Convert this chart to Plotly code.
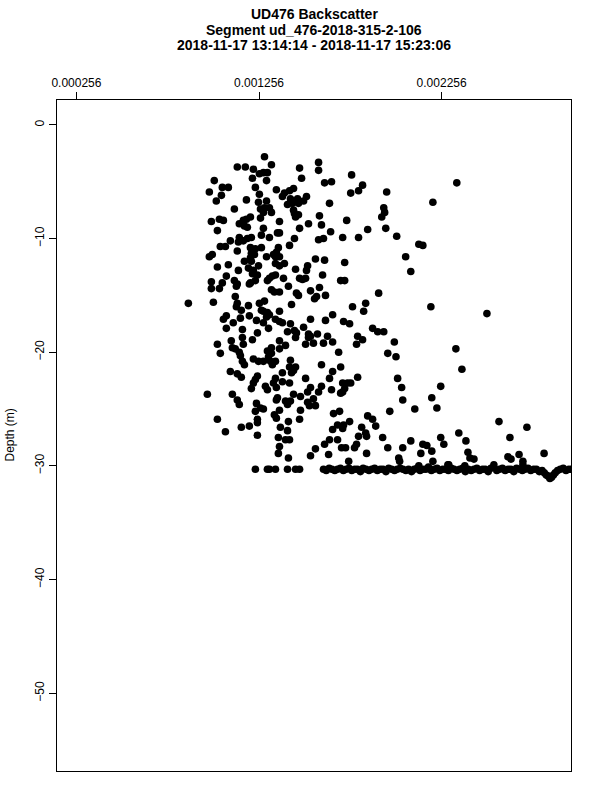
import plotly.graph_objects as go

# ---------------- data ----------------
title_lines = ["UD476 Backscatter",
               "Segment ud_476-2018-315-2-106",
               "2018-11-17 13:14:14 - 2018-11-17 15:23:06"]
x_tick_vals = [0.000256, 0.001256, 0.002256]
x_tick_text = ["0.000256", "0.001256", "0.002256"]
y_tick_vals = [0, -10, -20, -30, -40, -50]
y_title = "Depth (m)"

# backscatter values in units of 1e-6, water-column targets
cloud_bs_u = [
    1286,1324,1137,1181,1225,1258,1280,1302,1220,1297,
    1011,1055,1088,1236,984,1050,1022,1258,1351,1395,
    1423,1445,1478,1489,1582,1582,1615,1653,1187,1253,
    1297,1384,1428,1467,1516,1500,1439,1472,1412,1642,
    1758,1801,1823,1763,1955,1121,1264,1286,1313,1324,
    1280,1445,1450,1472,1456,1939,1944,1928,1587,995,
    1039,1061,1170,1187,1209,1148,1176,1192,1264,1368,
    1527,1478,1598,1648,1736,1851,1950,1028,1280,1269,
    1357,1368,1148,1214,1143,1170,1192,1313,1450,1099,
    1582,1609,1714,1801,1044,1072,1423,1137,1209,1225,
    1236,1214,1231,1269,1362,1351,1346,1335,1368,1297,
    984,1000,1209,1214,1176,1565,1615,1725,1088,1028,
    1143,1198,1225,1253,1247,1220,1346,1368,1395,1456,
    1522,1516,1604,1077,1121,1132,1137,1313,1329,1346,
    1302,1390,1478,1494,1511,1703,1725,995,995,1039,
    1055,1209,1203,1236,1417,1324,1340,1368,1461,1472,
    1538,1587,1620,1911,1126,1137,1132,1006,869,1258,
    1286,1434,1560,1571,1768,1840,1829,1198,1159,1269,
    1280,1302,1313,1368,1659,1077,1061,1115,1154,1203,
    1242,1297,1280,1346,1368,1384,1428,1538,1620,1719,
    1752,1878,1906,1939,1077,1165,1247,1308,1412,1450,
    1461,1500,1527,1576,1631,1796,1456,1527,1538,1659,
    1823,1790,1028,1104,1165,1170,1110,1126,1148,1044,
    1220,1302,1324,1368,1401,1368,1511,1554,1609,
    1692,1961,1154,1165,1176,1225,1253,1280,1308,1324,
    1319,1346,1329,1428,1423,1456,1434,1445,1598,1703,
    1099,1137,1159,1247,1236,1225,1214,1291,1302,1346,
    1335,1351,1384,1384,1423,1511,1659,1642,1714,1741,
    1758,1796,1598,1538,1522,1582,1653,1714,1725,1703,
    973,1110,1137,1148,1357,1351,1401,1412,1428,1445,
    1483,1522,1554,1532,1565,1242,1264,1236,1280,1368,
    1340,1351,1483,1478,1028,1247,1247,1417,1664,1697,
    1752,1686,1719,1714,1851,1878,1895,1972,1072,1159,
    1203,1247,1373,1412,1659,1818,1840,1845,1801,1933,
    1362,1401,1423,1642,1686,1368,1362,1417,1538,1565,
    1615,1637,1708,1730,1779,1790,1747,1845,1961,
    2339,2208,2010,2131,2153,2059,2087,2197,2504,2334,
    2367,2251,2202,2230,2109,2015,2037,2043,1997,2006,
    2087,2043,2021,2026,2153,2175,2202,2142,2208,2251,
    2268,2350,2389,2400,2411,2433,2570,2630,2723,2619,
    2636,2680,2701,2817,2295,
]
cloud_depth = [
    -2.8,-3.5,-3.7,-3.7,-3.9,-4.3,-4.2,-4.2,-4.7,-4.9,
    -4.9,-5.5,-5.5,-5.5,-5.9,-6.2,-6.7,-6.1,-5.7,-6.0,
    -5.8,-5.6,-3.8,-4.7,-3.3,-4.0,-5.1,-5.0,-6.6,-6.8,
    -6.7,-6.3,-6.5,-6.5,-6.3,-6.7,-6.9,-6.9,-7.0,-6.9,
    -6.0,-5.8,-5.3,-4.4,-5.9,-7.4,-7.4,-7.3,-7.3,-7.7,
    -7.7,-7.5,-7.8,-7.9,-8.1,-7.3,-7.7,-8.1,-8.0,-8.5,
    -8.3,-8.4,-8.4,-8.3,-8.1,-8.7,-8.9,-9.0,-8.2,-8.5,
    -8.7,-9.1,-8.8,-9.4,-8.4,-9.2,-9.1,-9.3,-9.1,-9.7,
    -9.5,-9.5,-9.9,-9.9,-10.3,-10.2,-10.0,-9.9,-10.0,-10.2,
    -10.1,-10.0,-9.9,-9.9,-10.7,-10.7,-10.6,-11.1,-10.8,-11.1,
    -10.9,-11.3,-11.4,-10.8,-10.8,-11.2,-11.6,-11.4,-11.6,-11.6,
    -11.6,-11.4,-11.7,-12.0,-12.0,-11.8,-11.9,-12.1,-12.3,-12.5,
    -12.8,-12.6,-12.8,-12.4,-13.2,-13.1,-12.2,-12.4,-12.2,-12.7,
    -12.4,-12.8,-13.2,-13.3,-13.7,-14.2,-14.0,-13.5,-13.3,-13.2,
    -13.7,-13.5,-13.5,-13.6,-13.5,-13.7,-13.7,-13.8,-14.4,-14.4,
    -13.9,-13.9,-14.0,-13.7,-14.2,-14.5,-14.7,-14.7,-14.8,-15.0,
    -14.6,-14.3,-15.0,-14.8,-15.1,-15.7,-16.0,-15.6,-15.7,-15.7,
    -15.5,-15.8,-15.3,-15.1,-16.0,-15.7,-16.4,-15.9,-16.3,-16.3,
    -16.4,-16.5,-16.7,-16.4,-16.7,-16.8,-17.1,-17.4,-17.0,-16.8,
    -17.2,-16.9,-17.4,-17.1,-17.3,-17.4,-17.5,-17.1,-17.2,-17.3,
    -17.5,-17.9,-18.2,-18.2,-17.9,-18.0,-18.3,-17.9,-18.2,-18.1,
    -18.3,-17.8,-18.4,-18.4,-18.6,-18.6,-18.7,-18.7,-18.6,-19.1,
    -18.9,-19.3,-19.3,-19.0,-18.7,-19.3,-19.6,-19.7,-20.0,-20.1,
    -18.9,-19.9,-19.6,-19.0,-19.4,-19.7,-19.3,-19.2,-19.2,
    -20.0,-20.1,-20.3,-20.8,-21.1,-20.6,-20.8,-20.8,-20.4,-20.1,
    -20.8,-20.8,-21.1,-20.7,-21.3,-21.3,-21.8,-21.6,-21.1,-21.3,
    -21.7,-21.9,-22.2,-22.1,-22.4,-22.7,-23.2,-23.0,-23.3,-22.3,
    -22.7,-23.1,-21.8,-22.6,-22.7,-22.3,-21.7,-22.3,-22.7,-22.7,
    -22.7,-22.2,-23.0,-23.1,-23.5,-23.5,-23.3,-23.5,-23.2,-23.6,
    -23.7,-23.7,-24.2,-24.6,-24.0,-24.2,-24.3,-24.6,-24.3,-23.7,
    -23.9,-24.4,-24.1,-24.7,-24.7,-24.5,-24.9,-25.2,-25.0,-25.1,
    -25.5,-25.8,-25.1,-25.9,-25.9,-25.9,-26.2,-26.1,-25.4,-25.2,
    -26.1,-26.4,-26.4,-26.7,-25.6,-25.9,-26.5,-25.2,-27.0,-26.6,
    -26.5,-27.3,-26.6,-26.9,-26.8,-26.6,-27.1,-27.4,-27.4,-27.5,
    -27.5,-27.7,-27.7,-27.7,-27.7,-28.3,-28.9,-29.3,-29.1,-28.5,
    -28.1,-29.0,-28.4,-28.4,-28.4,-28.1,-29.6,-28.9,-28.4,
    -5.1,-6.8,-9.8,-10.5,-10.6,-11.6,-12.9,-16.0,-16.6,-19.7,
    -21.5,-23.0,-24.0,-24.9,-25.0,-22.3,-23.1,-24.2,-19.1,-20.4,
    -27.8,-28.4,-29.3,-29.6,-28.1,-28.2,-28.7,-28.9,-29.6,-27.5,
    -28.1,-27.1,-27.8,-28.8,-29.3,-29.4,-26.1,-27.5,-26.6,-29.2,
    -29.4,-29.0,-29.6,-28.9,-29.9,
]

# seabed return (units of 1e-6)
bottom_bs_u = [
    1236,1302,1313,1346,1412,1456,1478,
    1609,1624,1640,1655,1671,1686,1702,1718,1733,1749,
    1764,1780,1795,1811,1826,1842,1858,1873,1889,1904,
    1920,1935,1951,1966,1982,1998,2013,2029,2044,2060,
    2075,2091,2106,2122,2131,2138,2153,2169,2184,2200,
    2215,2231,2246,2262,2278,2290,2293,2309,2324,2340,
    2355,2371,2383,2386,2402,2418,2433,2449,2464,2480,
    2495,2511,2526,2542,2558,2573,2589,2604,2620,2635,
    2651,2666,2682,2698,2701,2713,2729,2744,2760,2775,
    2791,2806,2818,2829,2840,2849,2858,2868,2878,2891,
    2906,2922,2937,2953,2968,
]
bottom_depth = [
    -30.3,-30.3,-30.3,-30.3,-30.3,-30.3,-30.3,
    -30.3,-30.4,-30.2,-30.3,-30.4,-30.3,-30.2,-30.4,-30.3,-30.2,
    -30.4,-30.3,-30.3,-30.5,-30.2,-30.3,-30.4,-30.3,-30.2,-30.4,
    -30.3,-30.3,-30.5,-30.2,-30.3,-30.4,-30.3,-30.2,-30.3,-30.4,
    -30.3,-30.5,-30.3,-30.2,-30.0,-30.4,-30.3,-30.3,-30.1,-30.4,
    -30.3,-30.2,-30.4,-30.3,-30.3,-29.9,-30.4,-30.2,-30.3,-30.4,
    -30.3,-30.2,-30.0,-30.5,-30.3,-30.4,-30.3,-30.2,-30.4,-30.3,
    -30.3,-30.5,-30.2,-29.9,-30.4,-30.3,-30.2,-30.4,-30.3,-30.3,
    -30.5,-30.2,-30.3,-30.4,-29.9,-30.3,-30.2,-30.4,-30.3,-30.3,
    -30.5,-30.4,-30.6,-30.8,-30.9,-31.1,-31.0,-30.8,-30.6,-30.4,
    -30.3,-30.2,-30.4,-30.3,-30.3,
]

assert len(cloud_bs_u) == len(cloud_depth), (len(cloud_bs_u), len(cloud_depth))
assert len(bottom_bs_u) == len(bottom_depth), (len(bottom_bs_u), len(bottom_depth))

x_all = [v * 1e-6 for v in cloud_bs_u + bottom_bs_u]
y_all = cloud_depth + bottom_depth

FONT = "Liberation Sans, Arial, Helvetica, sans-serif"

fig = go.Figure()
fig.add_trace(go.Scatter(
    x=x_all, y=y_all, mode="markers",
    marker=dict(color="black", size=7.6, line=dict(width=0)),
    showlegend=False, hoverinfo="skip",
))

fig.update_layout(
    width=600, height=800,
    margin=dict(l=57, r=29, t=100, b=29),
    paper_bgcolor="white", plot_bgcolor="white",
    font=dict(family=FONT, size=12, color="black"),
    showlegend=False,
)

fig.update_xaxes(
    side="top", range=[0.0001497, 0.0029644],
    tickmode="array", tickvals=x_tick_vals, ticktext=x_tick_text,
    ticks="outside", ticklen=7, tickwidth=1, tickcolor="black",
    showline=True, linecolor="black", linewidth=1, mirror=True,
    showgrid=False, zeroline=False,
    tickfont=dict(family=FONT, size=12, color="black"),
)
fig.update_yaxes(
    range=[-56.84, 2.19],
    tickmode="array", tickvals=y_tick_vals,
    ticks="outside", ticklen=7, tickwidth=1, tickcolor="black",
    tickangle=-90,
    showline=True, linecolor="black", linewidth=1, mirror=True,
    showgrid=False, zeroline=False,
    tickfont=dict(family=FONT, size=12, color="black"),
)

# title lines
shifts = [86.5, 70.5, 55]
for txt, sh in zip(title_lines, shifts):
    fig.add_annotation(
        text=f"<b>{txt}</b>", xref="paper", yref="paper", x=0.5, y=1,
        xanchor="center", yanchor="middle", yshift=sh, showarrow=False,
        font=dict(family=FONT, size=14, color="black"),
    )

fig.add_annotation(
    text=y_title, xref="paper", yref="paper", x=0, y=0.5,
    xanchor="center", yanchor="middle", xshift=-48, textangle=-90,
    showarrow=False, font=dict(family=FONT, size=12, color="black"),
)

fig.write_html(
    "out.html",
    config={"displayModeBar": False},
    post_script="document.body.style.margin='0';document.body.style.padding='0';",
)
